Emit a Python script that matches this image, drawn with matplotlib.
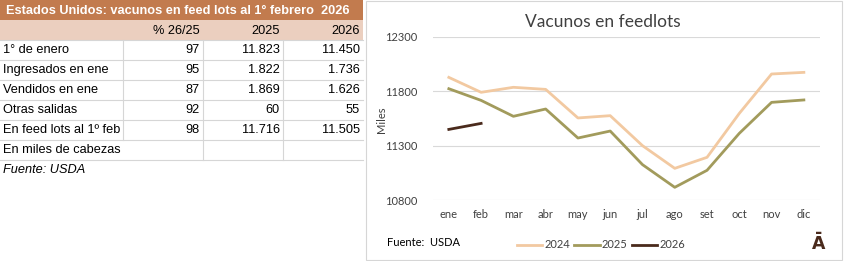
import matplotlib.pyplot as plt
import matplotlib.patches as mpatches
import numpy as np

# table data (miles de cabezas)
title_tbl = "Estados Unidos: vacunos en feed lots al 1° febrero  2026"
col_heads = ["% 26/25", "2025", "2026"]
row_labels = ["1° de enero", "Ingresados en ene", "Vendidos en ene",
              "Otras salidas", "En feed lots al 1º feb"]
pct = ["97", "95", "87", "92", "98"]
v2025 = ["11.823", "1.822", "1.869", "60", "11.716"]
v2026 = ["11.450", "1.736", "1.626", "55", "11.505"]

# chart data
months = ["ene", "feb", "mar", "abr", "may", "jun",
          "jul", "ago", "set", "oct", "nov", "dic"]
s2024 = [11927, 11790, 11836, 11817, 11555, 11576,
         11301, 11093, 11194, 11597, 11958, 11973]
s2025 = [11823, 11716, 11570, 11637, 11371, 11435,
         11127, 10919, 11075, 11414, 11698, 11720]
s2026 = [11450, 11505]

c24, c25, c26 = "#F2C9A1", "#A29B5C", "#4A2A1C"
brown, peach, grid = "#C27B4E", "#EBCFBF", "#D6D6D6"

W, H = 844, 261
fig = plt.figure(figsize=(W / 100, H / 100), dpi=100)

# ---- table, drawn on a full-figure axes in pixel units ----
tb = fig.add_axes([0, 0, 1, 1])
tb.set_xlim(0, W)
tb.set_ylim(H, 0)
tb.axis("off")
tf = "Liberation Sans"
fs = 9.2

tb.add_patch(mpatches.Rectangle((0, 0), 363, 20, color=brown, lw=0))
tb.add_patch(mpatches.Rectangle((0, 20), 363, 20, color=peach, lw=0))
tb.text(6, 11, title_tbl, color="white", fontsize=9.2, fontweight="bold",
        family=tf, va="center", ha="left")
rights = [200, 280, 360]
for r, h in zip(rights, col_heads):
    tb.text(r, 31, h, fontsize=fs, family=tf, va="center", ha="right")

for i in range(len(row_labels)):
    y = 50 + 20 * i
    tb.text(3, y, row_labels[i], fontsize=fs, family=tf, va="center")
    for r, v in zip(rights, [pct[i], v2025[i], v2026[i]]):
        tb.text(r, y, v, fontsize=fs, family=tf, va="center", ha="right")
tb.text(3, 150, "En miles de cabezas", fontsize=fs, family=tf, va="center")
tb.text(3, 170, "Fuente: USDA", fontsize=fs, family=tf, va="center",
        style="italic")

for y in [40, 60, 80, 100, 120, 140, 160]:
    tb.plot([0, 363], [y, y], color=grid, lw=0.8)
tb.plot([123, 123], [40, 140], color=grid, lw=0.8)
for x in [203, 283]:
    tb.plot([x, x], [40, 160], color=grid, lw=0.8)

# chart frame
tb.add_patch(mpatches.Rectangle((366, 0.5), 476, 259.5, fill=False,
                                ec=grid, lw=0.8))

# ---- line chart ----
ff = "Lato"
ax = fig.add_axes([432.7 / W, 1 - 200.3 / H, (820 - 432.7) / W,
                   (200.3 - 36.7) / H])
x = np.arange(len(months))
ax.plot(x, s2024, color=c24, lw=2.0, label="2024")
ax.plot(x, s2025, color=c25, lw=2.0, label="2025")
ax.plot(x[:len(s2026)], s2026, color=c26, lw=2.0, label="2026")
ax.set_xlim(-0.5, 11.5)
ax.set_ylim(10800, 12300)
ax.set_yticks([10800, 11300, 11800, 12300])
ax.set_xticks(x)
ax.set_xticklabels(months)
ax.grid(axis="y", color="#D9D9D9", lw=0.8)
ax.set_axisbelow(True)
for s in ax.spines.values():
    s.set_visible(False)
ax.tick_params(length=0, labelsize=8, colors="#404040", pad=6)
for lab in ax.get_xticklabels() + ax.get_yticklabels():
    lab.set_family(ff)
ax.tick_params(axis="y", pad=11)
ax.patch.set_alpha(0)

fig.text(603 / W, 1 - 22 / H, "Vacunos en feedlots", ha="center",
         va="center", fontsize=12.5, family=ff, color="#404040")
fig.text(381 / W, 1 - 120 / H, "Miles", rotation=90, ha="center",
         va="center", fontsize=8, family=ff, color="#404040")
fig.text(387 / W, 1 - 243 / H, "Fuente:  USDA", ha="left", va="center",
         fontsize=8, family=ff, color="black")
fig.text(819 / W, 1 - 244 / H, "Ā", ha="center", va="center",
         fontsize=12.5, fontweight="bold", family="DejaVu Sans", color=c26)

leg = fig.legend(loc="center", bbox_to_anchor=(601 / W, 1 - 245 / H),
                 ncol=3, frameon=False, handlelength=2.3,
                 handletextpad=0.2, columnspacing=0.35,
                 prop={"family": ff, "size": 8})
for t in leg.get_texts():
    t.set_color("#404040")

fig.savefig("out.png", dpi=100)
